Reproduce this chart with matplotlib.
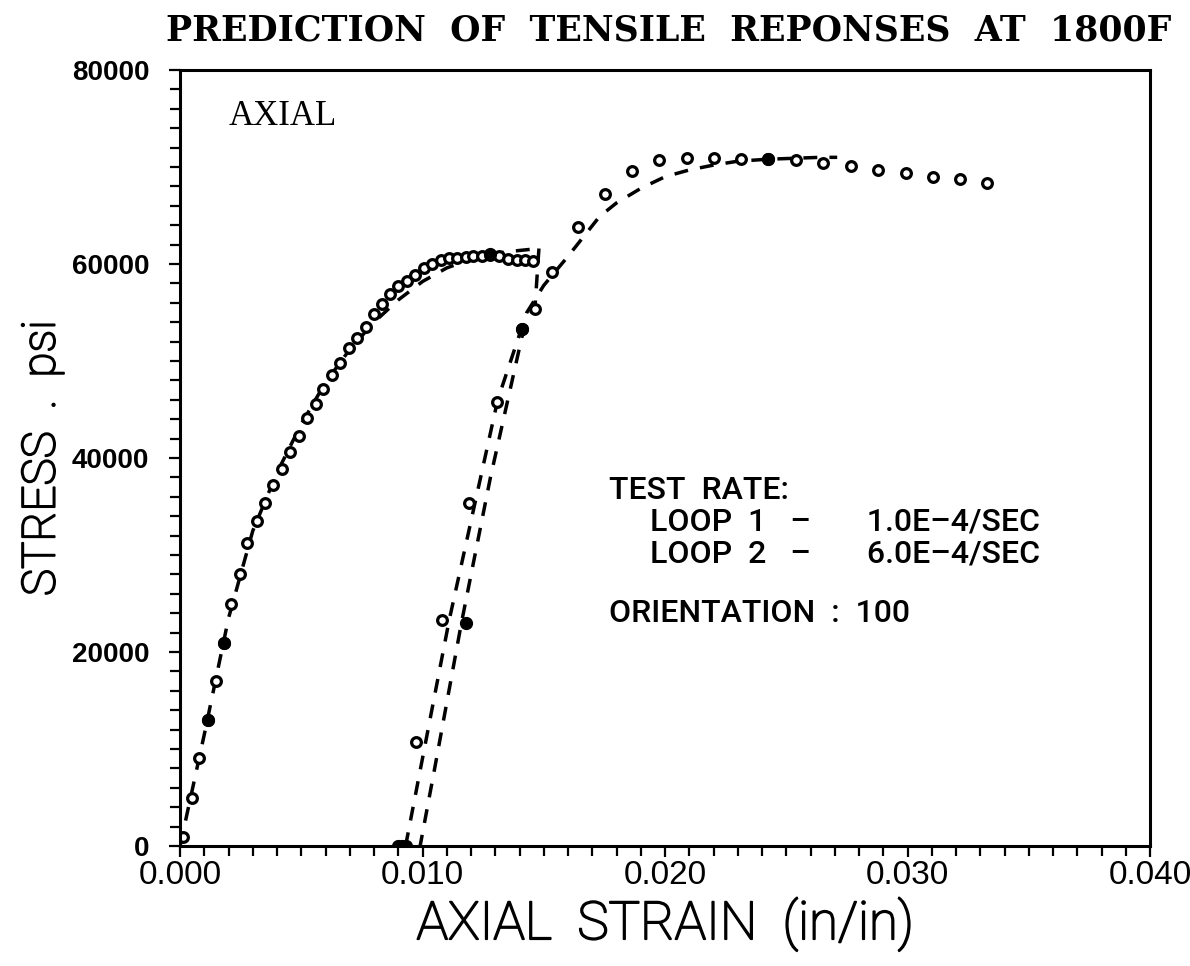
import numpy as np
import matplotlib.pyplot as plt
import matplotlib.patheffects as pe
from matplotlib.ticker import MultipleLocator, FormatStrFormatter

# loop 1 test data (open circles)
loop1_strain = [0.00014, 0.00048, 0.0008, 0.00117, 0.00148, 0.00181, 0.0021, 0.00247,
                0.00275, 0.00316, 0.0035, 0.00385, 0.0042, 0.00454, 0.0049, 0.00522,
                0.0056, 0.0059, 0.00626, 0.0066, 0.00697, 0.00729, 0.00766, 0.0080,
                0.00834, 0.00866, 0.0090, 0.00935, 0.0097, 0.01006, 0.0104, 0.01075,
                0.0111, 0.01144, 0.0118, 0.0121, 0.01247, 0.0128, 0.01315, 0.01354,
                0.0139, 0.01423, 0.01457]
loop1_stress = [900, 4900, 9100, 13000, 17000, 20900, 24900, 28000,
                31200, 33500, 35400, 37200, 38900, 40600, 42300, 44100,
                45600, 47100, 48600, 49800, 51300, 52400, 53500, 54800,
                55900, 56900, 57700, 58200, 58900, 59600, 60000, 60400,
                60600, 60600, 60700, 60800, 60800, 60900, 60800, 60500,
                60400, 60400, 60300]

# loop 2 test data (reload)
loop2_strain = [0.00972, 0.01082, 0.01193, 0.01306, 0.01412, 0.01464, 0.01533,
                0.01643, 0.01753, 0.01863, 0.01975, 0.0209, 0.0220, 0.02312,
                0.02426, 0.02539, 0.02653, 0.02767, 0.0288, 0.02992, 0.03104,
                0.03216, 0.03329]
loop2_stress = [10750, 23300, 35400, 45800, 53300, 55400, 59200,
                63800, 67200, 69600, 70700, 70900, 70900, 70800,
                70800, 70700, 70400, 70100, 69700, 69400, 69000,
                68800, 68400]

# points that print as filled dots in the scan
filled_strain = [0.00117, 0.00181, 0.0118, 0.01412, 0.0128, 0.02426, 0.0090, 0.00915, 0.0093]
filled_stress = [13000, 20900, 22950, 53300, 61000, 70800, 0, 0, 0]

# model predictions (dashed)
model1_strain = [0.0, 0.001, 0.002, 0.003, 0.004, 0.005, 0.006, 0.007, 0.008,
                 0.009, 0.010, 0.011, 0.012, 0.013, 0.014, 0.0148]
model1_stress = [0, 11500, 23500, 32500, 38500, 43500, 47800, 51200, 54000,
                 56300, 58200, 59600, 60500, 61100, 61400, 61600]
unload_strain = [0.0148, 0.01465, 0.0141, 0.0128, 0.0116, 0.0105, 0.0099]
unload_stress = [61600, 56000, 52500, 38000, 22950, 8000, 0]
model2_strain = [0.0093, 0.0111, 0.0131, 0.0143, 0.0150, 0.0160, 0.0173, 0.018,
                 0.019, 0.020, 0.021, 0.022, 0.023, 0.0242, 0.0253, 0.0264, 0.0271]
model2_stress = [0, 23300, 46000, 55000, 57800, 60800, 64900, 66300,
                 67800, 69000, 69700, 70200, 70600, 70800, 70900, 71000, 71000]

fig = plt.figure(figsize=(11.9, 9.66), dpi=100)
ax = fig.add_axes([0.1513, 0.1242, 0.8151, 0.8033])

dash = dict(color="black", lw=2.5, dashes=(4, 3.5))
ax.plot(model1_strain, model1_stress, **dash)
ax.plot(unload_strain, unload_stress, **dash)
ax.plot(model2_strain, model2_stress, **dash)

ax.plot(loop1_strain, loop1_stress, "o", mfc="white", mec="black", ms=7, mew=2.3)
ax.plot(loop2_strain, loop2_stress, "o", mfc="white", mec="black", ms=7, mew=2.3)
ax.plot(filled_strain, filled_stress, "o", color="black", ms=8.5)

ax.set_xlim(0, 0.040)
ax.set_ylim(0, 80000)
ax.xaxis.set_major_locator(MultipleLocator(0.010))
ax.xaxis.set_minor_locator(MultipleLocator(0.001))
ax.yaxis.set_major_locator(MultipleLocator(20000))
ax.yaxis.set_minor_locator(MultipleLocator(2000))
ax.xaxis.set_major_formatter(FormatStrFormatter("%.3f"))

for s in ax.spines.values():
    s.set_linewidth(2.2)
ax.tick_params(which="both", direction="out", width=1.6, top=False, right=False)
ax.tick_params(which="major", length=8)
ax.tick_params(which="minor", length=7)
ax.tick_params(axis="y", pad=14)
ax.tick_params(axis="x", pad=2)
for lab in ax.get_yticklabels():
    lab.set_fontsize(20)
    lab.set_fontweight("bold")
    lab.set_family("Liberation Sans")
for lab in ax.get_xticklabels():
    lab.set_fontsize(24)
    lab.set_family("Liberation Sans")

thick = [pe.withStroke(linewidth=1.3, foreground="black")]
ax.set_xlabel("AXIAL  STRAIN  (in/in)", fontsize=38, family="Roboto",
              fontweight="light", labelpad=4, path_effects=thick)
ax.set_ylabel("STRESS  .  psi", fontsize=33, family="Roboto",
              fontweight="light", labelpad=6, path_effects=thick)

fig.text(0.562, 0.968, "PREDICTION  OF  TENSILE  REPONSES  AT  1800F",
         ha="center", va="center", fontsize=25, family="DejaVu Serif",
         fontweight="bold")
ax.text(0.05, 0.94, "AXIAL", transform=ax.transAxes, fontsize=25,
        family="Liberation Serif", va="center")

legend_font = dict(fontsize=23, family="Roboto", fontweight="medium", va="center")
ax.text(0.0177, 36700, "TEST  RATE:", **legend_font)
ax.text(0.0194, 33400, "LOOP  1   \u2013       1.0E\u20134/SEC", **legend_font)
ax.text(0.0194, 30100, "LOOP  2   \u2013       6.0E\u20134/SEC", **legend_font)
ax.text(0.0177, 24000, "ORIENTATION  :  100", **legend_font)

fig.savefig("out.png", dpi=100)
